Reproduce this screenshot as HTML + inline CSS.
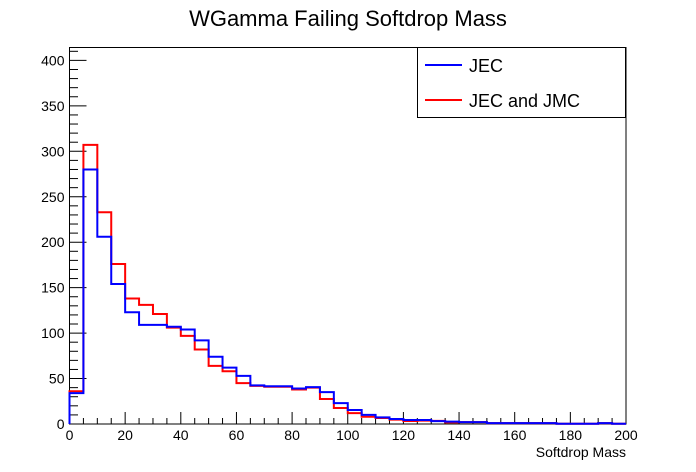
<!DOCTYPE html>
<html><head><meta charset="utf-8"><style>
body{margin:0;background:#fff;}
svg{display:block;font-family:"Liberation Sans",Arial,sans-serif;}
</style></head><body>
<svg id="chart" width="696" height="472" viewBox="0 0 696 472">
<rect width="696" height="472" fill="#fff"/>
<text x="348" y="26" font-size="22" text-anchor="middle">WGamma Failing Softdrop Mass</text>
<g id="axes"></g>
<g id="series"></g>
<g>
<rect x="417.5" y="47.5" width="208" height="70" fill="#fff" stroke="#000" stroke-width="1"/>
<line x1="425" y1="65" x2="462" y2="65" stroke="#0000ff" stroke-width="2"/>
<text x="469" y="72" font-size="18">JEC</text>
<line x1="425" y1="100" x2="462" y2="100" stroke="#ff0000" stroke-width="2"/>
<text x="469" y="107" font-size="18">JEC and JMC</text>
</g>
<text x="626" y="457" font-size="14" text-anchor="end">Softdrop Mass</text>
</svg>
<script>
const binEdgesStart = 0;
const binWidth = 5;
const jecValues = [34,280,206,154,123,109,109,107,104,92,74,62,53,42.5,41.5,41.5,39,40.5,35,23,15.4,10,7.3,5.5,4.4,4.4,3.2,2.6,2,2,1,1,1,1,1,0.3,0.3,0.3,1,0.3];
const jecJmcValues = [36,307,233,176,138,131,121,106,97,82,64,58,45,42,41,41,38,40,27.5,17.6,12,8,6.6,4.8,3.3,3.7,3.5,1.8,2,2,1,1,1,1,1,0.3,0.3,0.3,1,0.3];
const xTickLabels = [0,20,40,60,80,100,120,140,160,180,200];
const yTickLabels = [0,50,100,150,200,250,300,350,400];

const X0=69.5, X1=626, Y0=424, YTOP=47;
const xMin=0,xMax=200,yMax=(Y0-YTOP)/0.909;
function sx(v){return X0+(v-xMin)/(xMax-xMin)*(X1-X0);}
function sy(v){return Y0-v*(Y0-YTOP)/yMax;}
const NS="http://www.w3.org/2000/svg";
const axes=document.getElementById('axes');
function mk(tag,attrs,parent){const e=document.createElementNS(NS,tag);for(const k in attrs)e.setAttribute(k,attrs[k]);parent.appendChild(e);return e;}

const frame=mk('rect',{x:X0,y:YTOP+0.5,width:X1-X0,height:Y0-YTOP-0.5,fill:'none',stroke:'#000','stroke-width':1},axes);



// y ticks
for(let v=0;v<=yMax;v+=10){
  const major=v%50===0;
  const t=mk('line',{x1:X0,x2:X0+(major?17:8.5),y1:sy(v),y2:sy(v),stroke:'#000','stroke-width':1},axes);
  
  
}
yTickLabels.forEach(v=>{
  const t=mk('text',{x:X0-5,y:sy(v)+5,'font-size':14,'text-anchor':'end'},axes);
  t.textContent=v;
  
  
});
// x ticks
for(let v=0;v<=200;v+=5){
  const major=v%20===0;
  const t=mk('line',{x1:sx(v),x2:sx(v),y1:Y0,y2:Y0-(major?12:6),stroke:'#000','stroke-width':1},axes);
  
  
}
xTickLabels.forEach(v=>{
  const t=mk('text',{x:sx(v),y:Y0+16,'font-size':14,'text-anchor':'middle'},axes);
  t.textContent=v;
  
  
});

const series=document.getElementById('series');
function hist(vals,color,name){
  let d='M'+sx(binEdgesStart)+','+Y0;
  vals.forEach((v,i)=>{
    const a=binEdgesStart+i*binWidth,b=a+binWidth;
    d+=' L'+sx(a)+','+sy(v)+' L'+sx(b)+','+sy(v);
  });
  const p=mk('path',{d:d,fill:'none',stroke:color,'stroke-width':2},series);
  
  
}
hist(jecJmcValues,'#ff0000','histogram-jec-and-jmc');
hist(jecValues,'#0000ff','histogram-jec');
</script>
</body></html>
